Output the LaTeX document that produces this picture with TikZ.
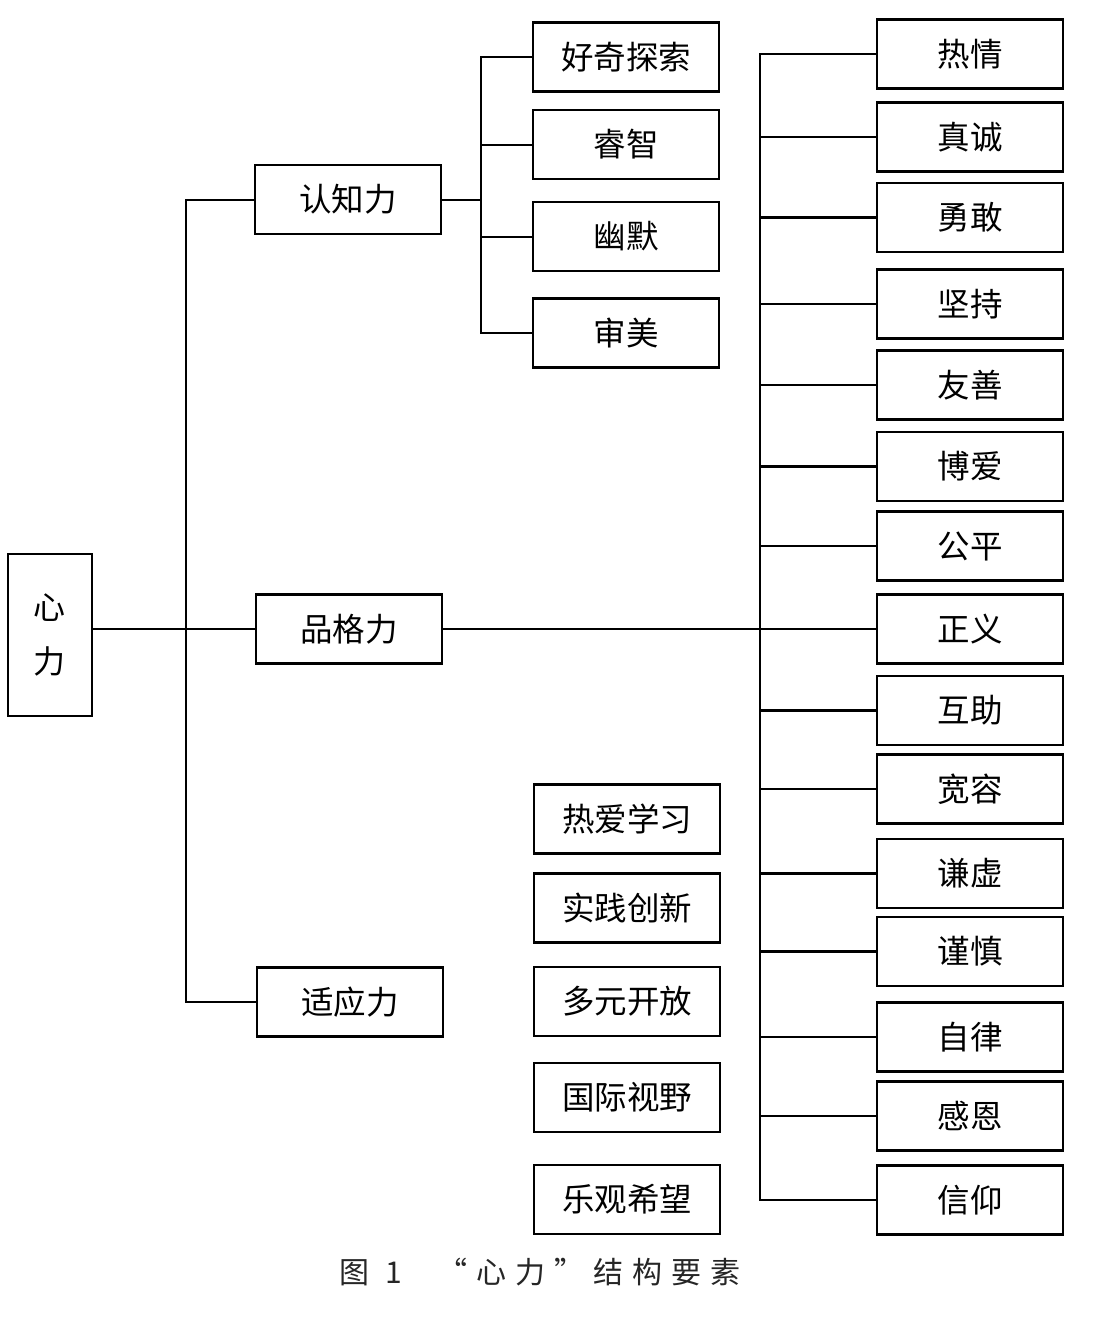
\documentclass[tikz,border=0pt]{standalone}
\usepackage{fontspec}
\setmainfont{Noto Sans CJK SC}
\newfontfamily\capfont[LetterSpace=30]{Noto Sans CJK SC}
\begin{document}
\begin{tikzpicture}[x=1pt,y=-1pt,
  box/.style={draw=black,line width=2.6pt,minimum width=186pt,minimum height=69pt,inner sep=0pt,font=\fontsize{32.5}{32.5}\selectfont},
  conn/.style={draw=black,line width=2pt},
  connb/.style={draw=black,line width=2.6pt}]
\useasboundingbox (0,0) rectangle (1113,1328);
% root
\node[draw=black,line width=2.6pt,minimum width=84pt,minimum height=162pt,inner sep=0pt,align=center,font=\fontsize{32}{54}\selectfont] (root) at (50,635) {心\\力};
% level 1
\node[box] (ren) at (348,199.5) {认知力};
\node[box] (pin) at (349,629) {品格力};
\node[box] (shi) at (350,1002) {适应力};
% cognitive children
\node[box] (c1) at (626,57) {好奇探索};
\node[box] (c2) at (626,144.5) {睿智};
\node[box] (c3) at (626,236.5) {幽默};
\node[box] (c4) at (626,333) {审美};
% adaptability children
\node[box] (a1) at (627,819) {热爱学习};
\node[box] (a2) at (627,908) {实践创新};
\node[box] (a3) at (627,1001.5) {多元开放};
\node[box] (a4) at (627,1097.5) {国际视野};
\node[box] (a5) at (627,1199.5) {乐观希望};
% character children
\node[box] (p1) at (970,54) {热情};
\node[box] (p2) at (970,137) {真诚};
\node[box] (p3) at (970,217.5) {勇敢};
\node[box] (p4) at (970,304) {坚持};
\node[box] (p5) at (970,385) {友善};
\node[box] (p6) at (970,466.5) {博爱};
\node[box] (p7) at (970,546) {公平};
\node[box] (p8) at (970,629) {正义};
\node[box] (p9) at (970,710.5) {互助};
\node[box] (p10) at (970,789) {宽容};
\node[box] (p11) at (970,873.5) {谦虚};
\node[box] (p12) at (970,951.5) {谨慎};
\node[box] (p13) at (970,1037) {自律};
\node[box] (p14) at (970,1116) {感恩};
\node[box] (p15) at (970,1200) {信仰};
% trunk
\coordinate (tx) at (186,0);
\draw[conn] (ren.west) -- (tx |- ren.west) -- (tx |- shi.west) -- (shi.west);
\draw[conn] (root.east |- pin.west) -- (pin.west);
% cognitive bus
\coordinate (cx) at (481,0);
\draw[conn] (ren.east) -- (cx |- ren.east);
\draw[conn] (c1.west) -- (cx |- c1.west) -- (cx |- c4.west) -- (c4.west);
\foreach \n in {c2,c3} \draw[conn] (cx |- \n.west) -- (\n.west);
% character bus
\coordinate (px) at (760,0);
\draw[connb] (pin.east) -- (p8.west);
\draw[connb] (p1.west) -- (px |- p1.west) -- (px |- p15.west) -- (p15.west);
\foreach \n in {p2,p3,p4,p5,p6,p7,p9,p10,p11,p12,p13,p14} \draw[connb] (px |- \n.west) -- (\n.west);
% caption
\node[font=\capfont\fontsize{30}{30}\selectfont,text=black!85,inner sep=0pt] (cap) at (540,1272) {图 1\hspace{36pt}“心力”结构要素};
\end{tikzpicture}
\end{document}
